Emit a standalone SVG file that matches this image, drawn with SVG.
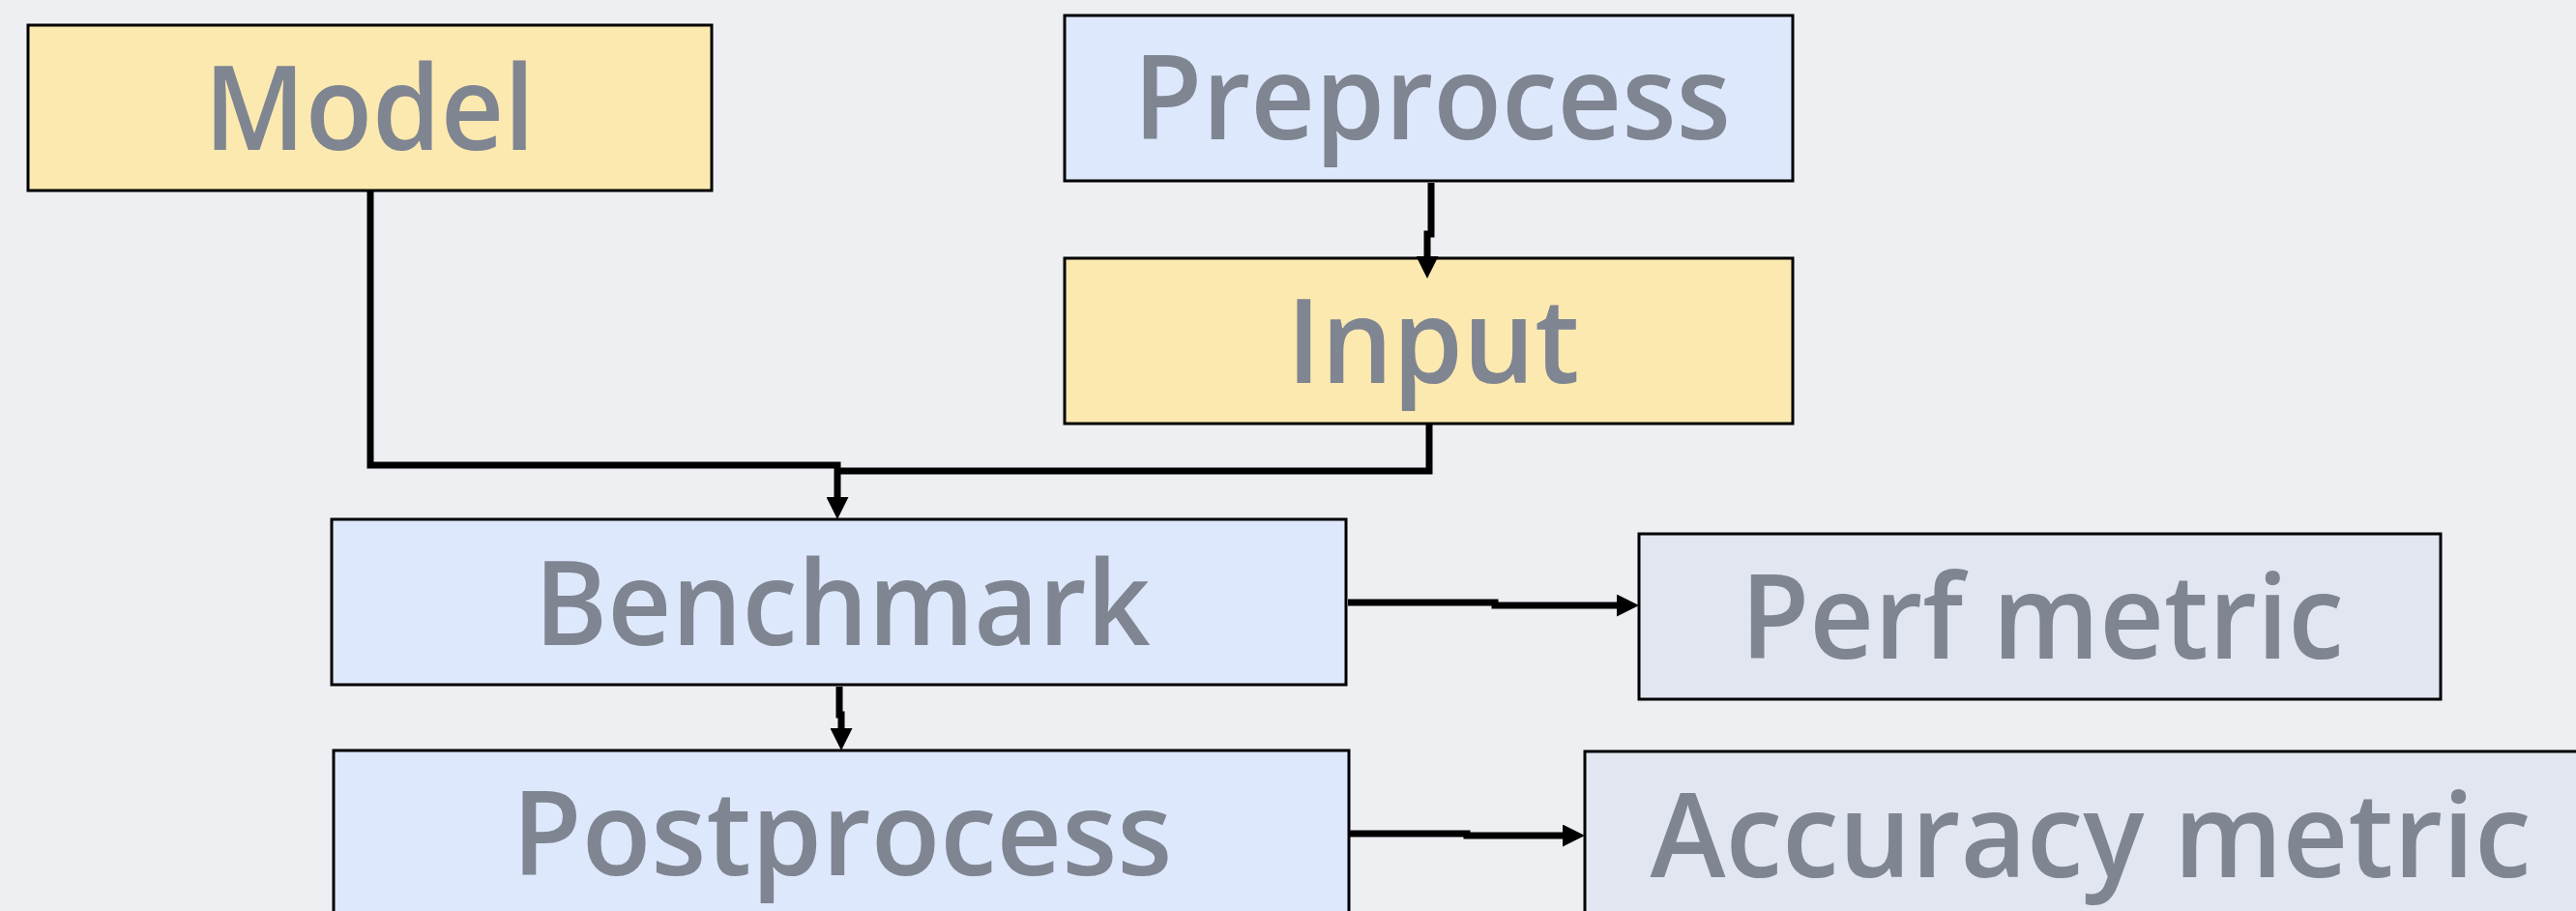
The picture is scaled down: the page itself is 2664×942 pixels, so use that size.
<svg xmlns="http://www.w3.org/2000/svg" width="2664" height="942" viewBox="0 0 2664 942">
  <style>
    .box { stroke: #000; stroke-width: 3; }
    .yellow { fill: #fce9b0; }
    .blue { fill: #dee8fd; }
    .metric { fill: #e2e6f0; }
    .label { font-family: "Open Sans", "Noto Sans", sans-serif; font-weight: 600; font-size: 122px; fill: #7f8591; text-anchor: middle; }
    .wire { fill: none; stroke: #000; stroke-width: 7; stroke-linejoin: miter; }
  </style>
  <defs>
    <marker id="head" viewBox="0 0 23 23" refX="0" refY="11.5" markerWidth="23" markerHeight="23" markerUnits="userSpaceOnUse" orient="auto">
      <path d="M0,0 L23,11.5 L0,23 Z" fill="#000"/>
    </marker>
  </defs>

  <rect width="2664" height="942" fill="#edeff3"/>

  <g id="model">
    <rect class="box yellow" x="29" y="26" width="707" height="171"/>
    <text class="label" x="382" y="155" textLength="342" lengthAdjust="spacingAndGlyphs">Model</text>
  </g>

  <g id="preprocess">
    <rect class="box blue" x="1101" y="16" width="753" height="171"/>
    <text class="label" x="1481" y="144" textLength="618" lengthAdjust="spacingAndGlyphs">Preprocess</text>
  </g>

  <g id="input">
    <rect class="box yellow" x="1101" y="267" width="753" height="171"/>
    <text class="label" x="1482" y="396" textLength="303" lengthAdjust="spacingAndGlyphs">Input</text>
  </g>

  <g id="benchmark">
    <rect class="box blue" x="343" y="537" width="1049" height="171"/>
    <text class="label" x="871" y="667" textLength="637" lengthAdjust="spacingAndGlyphs">Benchmark</text>
  </g>

  <g id="perf-metric">
    <rect class="box metric" x="1695" y="552" width="829" height="171"/>
    <text class="label" x="2112" y="681" textLength="624" lengthAdjust="spacingAndGlyphs">Perf metric</text>
  </g>

  <g id="postprocess">
    <rect class="box blue" x="345" y="776" width="1050" height="190"/>
    <text class="label" x="871" y="905" textLength="683" lengthAdjust="spacingAndGlyphs">Postprocess</text>
  </g>

  <g id="accuracy-metric">
    <rect class="box metric" x="1639" y="777" width="1050" height="190"/>
    <text class="label" x="2162" y="907" textLength="911" lengthAdjust="spacingAndGlyphs">Accuracy metric</text>
  </g>

  <!-- connectors sit on top so arrowheads can overlap node borders -->
  <g id="connectors">
    <path class="wire" d="M383,197 V481 H866 V514" marker-end="url(#head)"/>
    <path class="wire" d="M1478,438 V487 H866"/>
    <path class="wire" d="M1480,189 V242 H1476 V265" marker-end="url(#head)"/>
    <path class="wire" d="M868,710 V739 H870 V753" marker-end="url(#head)"/>
    <path class="wire" d="M1394,623 H1546 V626 H1672" marker-end="url(#head)"/>
    <path class="wire" d="M1396,862 H1517 V864 H1616" marker-end="url(#head)"/>
  </g>
</svg>
